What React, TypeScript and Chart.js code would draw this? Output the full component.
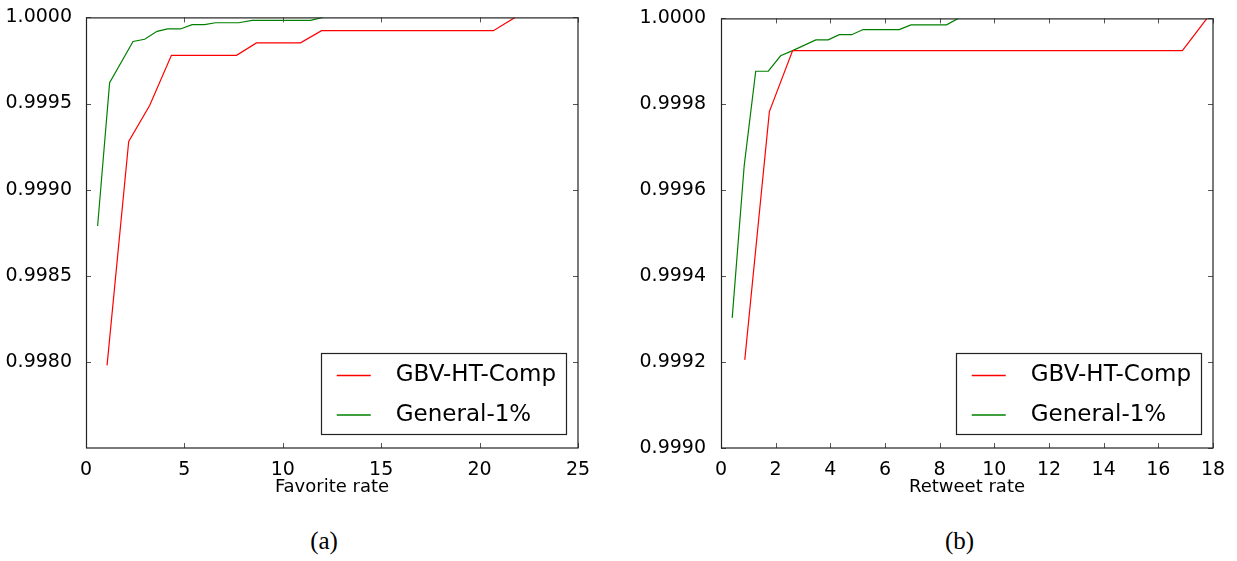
import React, { useEffect, useRef } from "react";
import { Chart, registerables } from "chart.js";

Chart.register(...registerables);

// ---- data ----
const seriesLabels = ["GBV-HT-Comp", "General-1%"];
const seriesColors = ["#ff0000", "#008000"];

// (a) Favorite rate
const favGbvX = [1.07, 2.17, 3.24, 4.34, 7.65, 8.66, 10.9, 11.97, 20.7, 21.8];
const favGbvY = [0.99798, 0.99928, 0.99949, 0.99978, 0.99978, 0.999852, 0.999852, 0.999923, 0.999923, 1.0];
const favGenX = [0.59, 1.2, 2.39, 2.98, 3.61, 4.15, 4.8, 5.39, 6.02, 6.58, 7.76, 8.44, 11.41, 12.04];
const favGenY = [0.998789, 0.999621, 0.99986, 0.999873, 0.999919, 0.999933, 0.999933, 0.999958, 0.999958, 0.999969, 0.999969, 0.999983, 0.999983, 1.0];
const favXTicks = [0, 5, 10, 15, 20, 25];
const favYTicks = [0.998, 0.9985, 0.999, 0.9995, 1.0];

// (b) Retweet rate
const rtGbvX = [0.87, 1.77, 2.62, 16.88, 17.78];
const rtGbvY = [0.999205, 0.999783, 0.999925, 0.999925, 1.0];
const rtGenX = [0.41, 0.85, 1.27, 1.73, 2.18, 2.62, 3.47, 3.92, 4.33, 4.78, 5.2, 6.52, 6.95, 8.25, 8.68];
const rtGenY = [0.999303, 0.999658, 0.999877, 0.999877, 0.999913, 0.999925, 0.99995, 0.99995, 0.999962, 0.999962, 0.999974, 0.999974, 0.999985, 0.999985, 1.0];
const rtXTicks = [0, 2, 4, 6, 8, 10, 12, 14, 16, 18];
const rtYTicks = [0.999, 0.9992, 0.9994, 0.9996, 0.9998, 1.0];

const FONT = "'DejaVu Sans', sans-serif";

const frameLegendPlugin = {
  id: "frameLegend",
  afterDatasetsDraw(chart: any) {
    const { ctx, chartArea } = chart;
    const { left, right, top, bottom } = chartArea;
    const xs = chart.scales.x;
    const ys = chart.scales.y;
    ctx.save();
    // inward ticks on all sides
    ctx.strokeStyle = "#555";
    ctx.lineWidth = 1;
    const tl = 5;
    ctx.beginPath();
    xs.ticks.forEach((t: any) => {
      const px = Math.round(xs.getPixelForValue(t.value)) + 0.5;
      ctx.moveTo(px, bottom);
      ctx.lineTo(px, bottom - tl);
      ctx.moveTo(px, top);
      ctx.lineTo(px, top + tl);
    });
    ys.ticks.forEach((t: any) => {
      const py = Math.round(ys.getPixelForValue(t.value)) + 0.5;
      ctx.moveTo(left, py);
      ctx.lineTo(left + tl, py);
      ctx.moveTo(right, py);
      ctx.lineTo(right - tl, py);
    });
    ctx.stroke();
    // frame
    ctx.strokeStyle = "#222";
    ctx.lineWidth = 1.2;
    ctx.strokeRect(left + 0.5, top + 0.5, right - left - 0.5, bottom - top - 0.5);

    // legend box bottom-right
    ctx.font = `23px ${FONT}`;
    const ds = chart.data.datasets;
    let tw = 0;
    ds.forEach((d: any) => {
      tw = Math.max(tw, ctx.measureText(d.label).width);
    });
    const boxW = 75 + tw + 10;
    const boxH = 81;
    const bx = right - 12 - boxW;
    const by = bottom - 14 - boxH;
    ctx.fillStyle = "#fff";
    ctx.fillRect(bx, by, boxW, boxH);
    ctx.strokeStyle = "#222";
    ctx.lineWidth = 1.2;
    ctx.strokeRect(Math.round(bx) + 0.5, Math.round(by) + 0.5, Math.round(boxW), Math.round(boxH));
    ds.forEach((d: any, i: number) => {
      const ly = by + 22.5 + i * 39.5;
      ctx.strokeStyle = d.borderColor;
      ctx.lineWidth = 1.4;
      ctx.beginPath();
      ctx.moveTo(bx + 16, ly);
      ctx.lineTo(bx + 50, ly);
      ctx.stroke();
      ctx.fillStyle = "#000";
      ctx.textBaseline = "middle";
      ctx.textAlign = "left";
      ctx.fillText(d.label, bx + 75, ly);
    });
    ctx.restore();
  },
};

type PanelProps = {
  gbvX: number[];
  gbvY: number[];
  genX: number[];
  genY: number[];
  xMax: number;
  yMin: number;
  xTicks: number[];
  yTicks: number[];
  xTitle: string;
  yAxisWidth: number;
  padRight: number;
  width: number;
  height: number;
  labelPad: number;
};

function Panel(p: PanelProps) {
  const ref = useRef<HTMLCanvasElement | null>(null);
  useEffect(() => {
    if (!ref.current) return;
    const mk = (xs: number[], ys: number[]) => xs.map((v, i) => ({ x: v, y: ys[i] }));
    const chart = new Chart(ref.current, {
      type: "line",
      data: {
        datasets: [
          {
            label: seriesLabels[0],
            data: mk(p.gbvX, p.gbvY),
            borderColor: seriesColors[0],
            backgroundColor: seriesColors[0],
            borderWidth: 1.2,
            pointRadius: 0,
            fill: false,
            tension: 0,
          },
          {
            label: seriesLabels[1],
            data: mk(p.genX, p.genY),
            borderColor: seriesColors[1],
            backgroundColor: seriesColors[1],
            borderWidth: 1.2,
            pointRadius: 0,
            fill: false,
            tension: 0,
          },
        ],
      },
      options: {
        responsive: false,
        animation: false,
        devicePixelRatio: 1,
        layout: { padding: { top: 15, right: p.padRight, left: 0, bottom: 0 } },
        plugins: { legend: { display: false }, tooltip: { enabled: false } },
        scales: {
          x: {
            type: "linear",
            min: 0,
            max: p.xMax,
            afterBuildTicks: (s: any) => {
              s.ticks = p.xTicks.map((v) => ({ value: v }));
            },
            afterFit: (s: any) => {
              s.height = p.height - 448;
            },
            grid: { display: false },
            border: { display: false },
            ticks: {
              autoSkip: false,
              maxRotation: 0,
              padding: 3,
              color: "#000",
              font: { family: FONT, size: 19 },
              callback: (v: any) => String(v),
            },
            title: {
              display: true,
              text: p.xTitle,
              color: "#000",
              font: { family: FONT, size: 18 },
              padding: { top: 0, bottom: 12 },
            },
          },
          y: {
            type: "linear",
            min: p.yMin,
            max: 1.0,
            afterBuildTicks: (s: any) => {
              s.ticks = p.yTicks.map((v) => ({ value: v }));
            },
            afterFit: (s: any) => {
              s.width = p.yAxisWidth;
            },
            grid: { display: false },
            border: { display: false },
            ticks: {
              autoSkip: false,
              padding: p.labelPad,
              color: "#000",
              font: { family: FONT, size: 19 },
              callback: (v: any) => Number(v).toFixed(4),
            },
          },
        },
      },
      plugins: [frameLegendPlugin],
    } as any);
    return () => chart.destroy();
  }, []);
  return <canvas ref={ref} width={p.width} height={p.height} style={{ display: "block" }} />;
}

export default function App() {
  const H = 510;
  return (
    <div
      style={{
        position: "fixed",
        left: 0,
        top: 0,
        width: 1237,
        height: 561,
        background: "#fff",
        overflow: "hidden",
      }}
    >
      <div style={{ position: "absolute", left: 0, top: 0 }}>
        <Panel
          gbvX={favGbvX}
          gbvY={favGbvY}
          genX={favGenX}
          genY={favGenY}
          xMax={25}
          yMin={0.9975}
          xTicks={favXTicks}
          yTicks={favYTicks}
          xTitle="Favorite rate"
          yAxisWidth={86}
          padRight={42}
          width={620}
          height={H}
          labelPad={6}
        />
      </div>
      <div style={{ position: "absolute", left: 620, top: 0 }}>
        <Panel
          gbvX={rtGbvX}
          gbvY={rtGbvY}
          genX={rtGenX}
          genY={rtGenY}
          xMax={18}
          yMin={0.999}
          xTicks={rtXTicks}
          yTicks={rtYTicks}
          xTitle="Retweet rate"
          yAxisWidth={101}
          padRight={24}
          width={617}
          height={H}
          labelPad={7}
        />
      </div>
      <div
        style={{
          position: "absolute",
          left: 224,
          width: 200,
          top: 528,
          textAlign: "center",
          fontFamily: "'Liberation Serif', serif",
          fontSize: 25,
          lineHeight: "25px",
          color: "#000",
        }}
      >
        (a)
      </div>
      <div
        style={{
          position: "absolute",
          left: 859.5,
          width: 200,
          top: 528,
          textAlign: "center",
          fontFamily: "'Liberation Serif', serif",
          fontSize: 25,
          lineHeight: "25px",
          color: "#000",
        }}
      >
        (b)
      </div>
    </div>
  );
}
